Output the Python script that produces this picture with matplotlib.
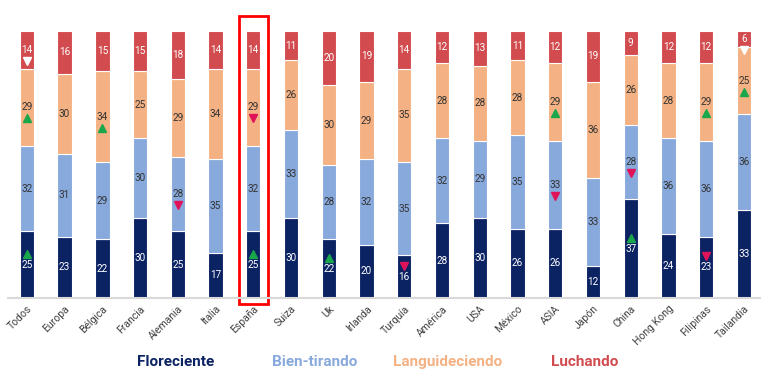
import matplotlib
matplotlib.use('Agg')
import matplotlib.pyplot as plt
from matplotlib.patches import Rectangle
from matplotlib.transforms import ScaledTranslation
import numpy as np

plt.rcParams['font.family'] = ['Roboto', 'DejaVu Sans']

regions = ['Todos', 'Europa', 'Bélgica', 'Francia', 'Alemania', 'Italia', 'España',
           'Suiza', 'Uk', 'Irlanda', 'Turquía', 'América', 'USA', 'México', 'ASIA',
           'Japón', 'China', 'Hong Kong', 'Filipinas', 'Tailandia']

floreciente = [25, 23, 22, 30, 25, 17, 25, 30, 22, 20, 16, 28, 30, 26, 26, 12, 37, 24, 23, 33]
bien_tirando = [32, 31, 29, 30, 28, 35, 32, 33, 28, 32, 35, 32, 29, 35, 33, 33, 28, 36, 36, 36]
languideciendo = [29, 30, 34, 25, 29, 34, 29, 26, 30, 29, 35, 28, 28, 28, 29, 36, 26, 28, 29, 25]
luchando = [14, 16, 15, 15, 18, 14, 14, 11, 20, 19, 14, 12, 13, 11, 12, 19, 9, 12, 12, 6]

series_names = ['Floreciente', 'Bien-tirando', 'Languideciendo', 'Luchando']
series = [floreciente, bien_tirando, languideciendo, luchando]
colors = ['#0b2263', '#88a9dc', '#f4b183', '#d24b4f']
label_colors = ['white', '#333333', '#333333', 'white']

# change arrows: (region, series index, 'up'/'down', colour)
arrows = [
    ('Todos', 0, 'up', '#1aa64a'), ('Todos', 2, 'up', '#1aa64a'), ('Todos', 3, 'down', 'white'),
    ('Bélgica', 2, 'up', '#1aa64a'),
    ('Alemania', 1, 'down', '#e0135a'),
    ('España', 0, 'up', '#1aa64a'), ('España', 2, 'down', '#e0135a'),
    ('Uk', 0, 'up', '#1aa64a'),
    ('Turquía', 0, 'down', '#e0135a'),
    ('ASIA', 2, 'up', '#1aa64a'), ('ASIA', 1, 'down', '#e0135a'),
    ('China', 0, 'up', '#1aa64a'), ('China', 1, 'down', '#e0135a'),
    ('Filipinas', 2, 'up', '#1aa64a'), ('Filipinas', 0, 'down', '#e0135a'),
    ('Tailandia', 2, 'up', '#1aa64a'), ('Tailandia', 3, 'down', 'white'),
]

fig = plt.figure(figsize=(7.69, 3.75), dpi=100)
ax = fig.add_axes([0.0104, 0.205, 0.9776, 0.712])

x = np.arange(len(regions))
width = 0.38
bottom = np.zeros(len(regions))
centers = []
for vals, col, lc in zip(series, colors, label_colors):
    vals = np.array(vals)
    ax.bar(x, vals, width, bottom=bottom, color=col, edgecolor='white', linewidth=0.8)
    mid = bottom + vals / 2
    centers.append(mid)
    for xi, yi, v in zip(x, mid, vals):
        ax.text(xi, yi, str(v), ha='center', va='center', fontsize=7.2, color=lc)
    bottom = bottom + vals

# triangles: above the label for Floreciente, below for the rest
for reg, si, direction, col in arrows:
    i = regions.index(reg)
    dy = 8 if si == 0 else -8
    marker = '^' if direction == 'up' else 'v'
    shift = ScaledTranslation(0, dy / 72, fig.dpi_scale_trans)
    ax.plot([i], [centers[si][i]], marker=marker, color=col, markersize=6,
            linestyle='none', transform=ax.transData + shift)

ax.set_xlim(-0.5, 19.42)
ax.set_ylim(0, 100)
ax.set_yticks([])
ax.set_xticks(x)
ax.set_xticklabels(regions, rotation=45, ha='right', rotation_mode='anchor',
                   fontsize=7.5, color='#404040')
ax.tick_params(axis='x', length=0, pad=4)
for s in ['top', 'right', 'left']:
    ax.spines[s].set_visible(False)
ax.spines['bottom'].set_color('#d9d9d9')
ax.spines['bottom'].set_linewidth(1.5)

# highlight España
k = regions.index('España')
ax.add_patch(Rectangle((k - 0.38, -2.3), 0.78, 108, fill=False, edgecolor='#ff0000',
                       linewidth=2, clip_on=False))

legend_x = [176, 315, 448, 585]
for name, col, lx in zip(series_names, colors, legend_x):
    fig.text(lx / 769, 1 - 362 / 375, name, ha='center', va='center', fontsize=11,
             fontweight='bold', color=col)

fig.savefig('out.png', dpi=100)
